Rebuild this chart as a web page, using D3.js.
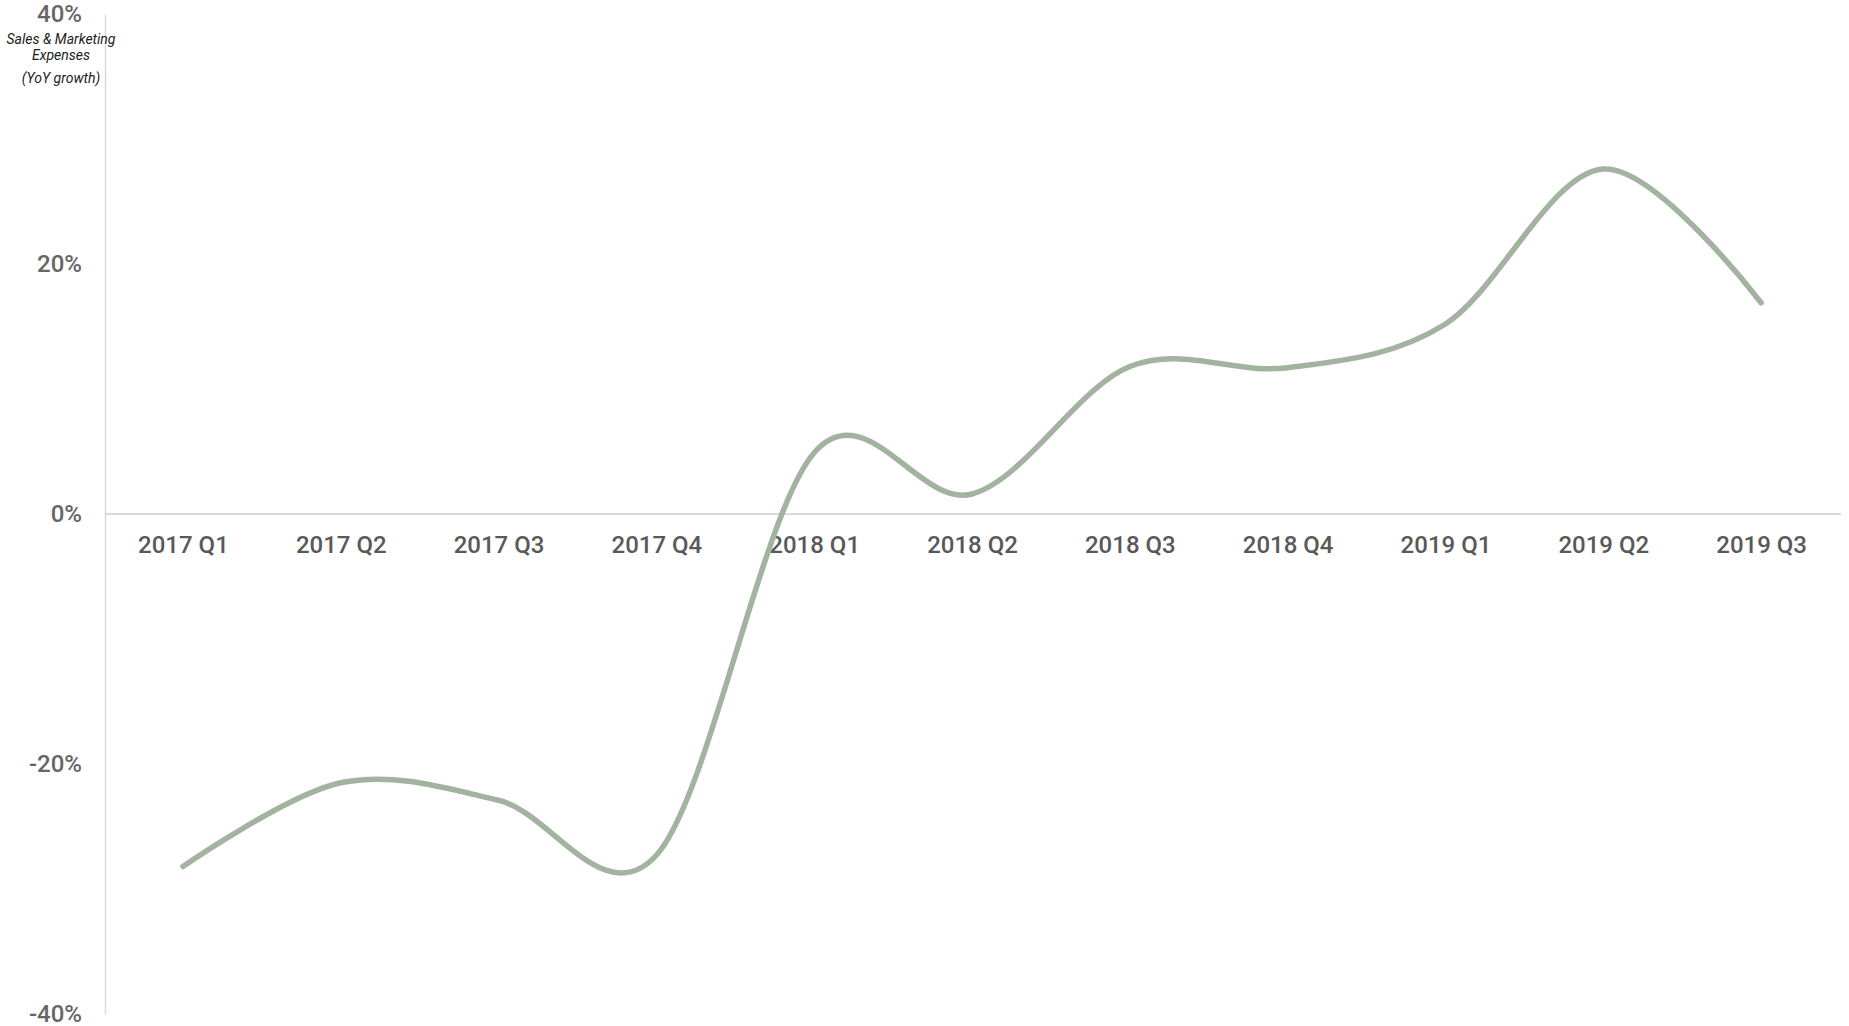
<!DOCTYPE html>
<html>
<head>
<meta charset="utf-8">
<script src="https://cdn.jsdelivr.net/npm/d3@7"></script>
<style>
  body { margin: 0; background: #fff; }
  svg { display: block; font-family: Roboto, "Noto Sans", sans-serif; }
  .axis text { fill: #595959; font-family: Roboto, sans-serif; font-weight: 500; }
  .axis-title { fill: #222; font-style: italic; font-size: 14px; }
</style>
</head>
<body>
<svg id="chart"></svg>
<script>
// quarters on the x axis
const quarters = ['2017 Q1', '2017 Q2', '2017 Q3', '2017 Q4', '2018 Q1', '2018 Q2',
  '2018 Q3', '2018 Q4', '2019 Q1', '2019 Q2', '2019 Q3'];
// Sales & Marketing expenses, YoY growth in %
const growth = [-28.2, -21.5, -22.9, -27.3, 4.9, 1.6, 11.8, 11.7, 15.2, 27.6, 16.9];
const yTicks = [-40, -20, 0, 20, 40];
const titleLines = ['Sales & Marketing', 'Expenses', '(YoY growth)'];

const width = 1849, height = 1026;
const axisX = 105;

const svg = d3.select('#chart')
    .attr('width', width)
    .attr('height', height);

const xScale = d3.scalePoint()
    .domain(quarters)
    .range([104, 1840])
    .padding(0.5);

const yScale = d3.scaleLinear()
    .domain([-40, 40])
    .range([1014, 14]);

// y axis
const yAxisG = svg.append('g')
    .attr('class', 'axis y-axis')
    .attr('transform', `translate(${axisX},0)`)
    .call(d3.axisLeft(yScale)
        .tickValues(yTicks)
        .tickSize(0)
        .tickSizeOuter(0)
        .tickPadding(23)
        .tickFormat(d => d + '%'));

yAxisG.attr('font-family', null);
yAxisG.select('.domain')
    .attr('stroke', '#d9d9d9')
    .attr('stroke-width', 1.5);

yAxisG.selectAll('text')
    .style('font-size', '24px')
    .style('fill', '#666');

// x axis sits on the 0% line
const xAxisG = svg.append('g')
    .attr('class', 'axis x-axis')
    .attr('transform', `translate(0,${yScale(0)})`)
    .call(d3.axisBottom(xScale)
        .tickSize(0)
        .tickPadding(22));

xAxisG.attr('font-family', null);
xAxisG.select('.domain').remove();
xAxisG.append('line')
    .attr('x1', axisX)
    .attr('x2', 1841)
    .attr('stroke', '#d9d9d9')
    .attr('stroke-width', 2);

xAxisG.selectAll('text')
    .style('font-size', '24px');

// axis title, top left
svg.append('text')
    .attr('class', 'axis-title')
    .attr('text-anchor', 'middle')
    .selectAll('tspan')
    .data(titleLines)
    .join('tspan')
    .attr('x', 61)
    .attr('y', (d, i) => [44, 60, 83][i])
    .text(d => d);

// smoothed line
svg.append('path')
    .datum(growth)
    .attr('fill', 'none')
    .attr('stroke', '#a2b49f')
    .attr('stroke-width', 5.5)
    .attr('stroke-linecap', 'round')
    .attr('stroke-linejoin', 'round')
    .attr('d', d3.line()
        .x((d, i) => xScale(quarters[i]))
        .y(d => yScale(d))
        .curve(d3.curveCardinal.tension(0)));
</script>
</body>
</html>
